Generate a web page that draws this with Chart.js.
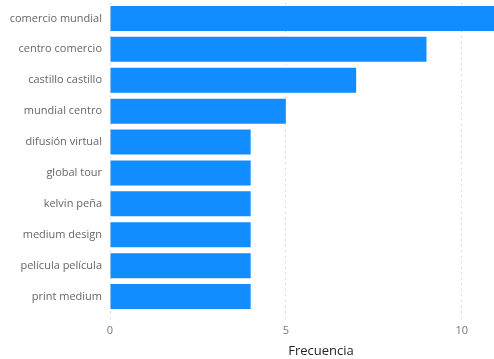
<!DOCTYPE html>
<html>
<head>
<meta charset="utf-8">
<script src="https://cdn.jsdelivr.net/npm/chart.js@4/dist/chart.umd.min.js"></script>
<style>
html,body{margin:0;padding:0;background:#fff;overflow:hidden;}
#wrap{width:494px;height:359px;overflow:hidden;position:relative;}
canvas{display:block;}
</style>
</head>
<body>
<div id="wrap"><canvas id="c" width="532" height="359"></canvas></div>
<script>
const categories = ["comercio mundial","centro comercio","castillo castillo","mundial centro","difusión virtual","global tour","kelvin peña","medium design","película película","print medium"];
const frecuencia = [11, 9, 7, 5, 4, 4, 4, 4, 4, 4];
const tickValues = [0, 5, 10];
const axisTitle = "Frecuencia";

new Chart(document.getElementById('c'), {
  type: 'bar',
  data: {
    labels: categories,
    datasets: [{
      data: frecuencia,
      backgroundColor: '#118DFF',
      borderWidth: 0,
      barPercentage: 0.81,
      categoryPercentage: 1
    }]
  },
  options: {
    indexAxis: 'y',
    responsive: false,
    animation: false,
    layout: { padding: { top: 3, left: 0, right: 0, bottom: 0 } },
    plugins: { legend: { display: false }, tooltip: { enabled: false } },
    scales: {
      x: {
        min: 0, max: 12,
        afterBuildTicks: s => { s.ticks = tickValues.map(v => ({ value: v })); },
        afterFit: s => { s.height = 47; s.paddingLeft = 0; s.paddingRight = 0; },
        grid: {
          color: '#d4d4d4',
          lineWidth: 1,
          drawTicks: true,
          tickLength: 8,
          tickColor: '#d4d4d4',
          borderDash: [1.5, 4],
          tickBorderDash: [1.5, 4]
        },
        border: { display: false, dash: [1.5, 4] },
        ticks: { color: '#777', font: { family: 'Open Sans', size: 11 }, padding: 4 },
        title: { display: true, text: axisTitle, color: '#252423', font: { family: 'Open Sans', size: 13 }, padding: { top: 2, bottom: 0 } }
      },
      y: {
        afterFit: s => { s.width = 110; s.paddingTop = 0; s.paddingBottom = 0; },
        grid: { display: false, drawTicks: false },
        border: { display: false },
        ticks: { color: '#666', font: { family: 'Open Sans', size: 11 }, padding: 8 }
      }
    }
  }
});
</script>
</body>
</html>
